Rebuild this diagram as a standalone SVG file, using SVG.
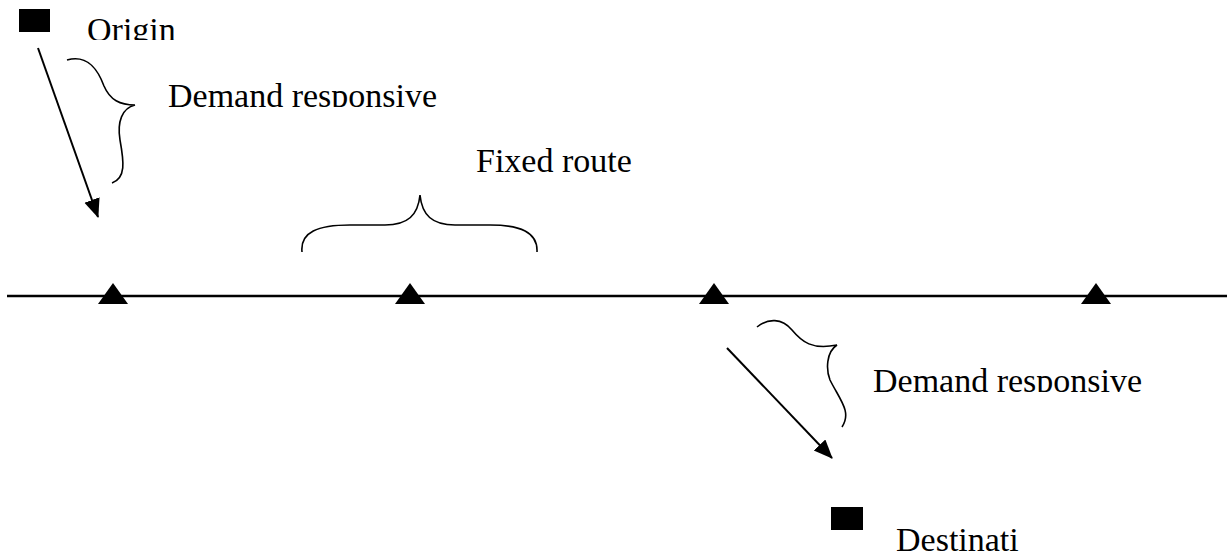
<svg xmlns="http://www.w3.org/2000/svg" width="1227" height="552" viewBox="0 0 1227 552">
  <style>
    .lbl { font-family: "Liberation Serif", "Times New Roman", serif; font-size: 34px; fill: #000; }
    .brace { fill: none; stroke: #000; stroke-width: 1.6; }
    .conn { fill: none; stroke: #000; stroke-width: 2; }
    .stop { fill: #000; }
  </style>
  <defs>
    <marker id="arrowhead" markerWidth="20" markerHeight="18" refX="18" refY="8" orient="auto" markerUnits="userSpaceOnUse" viewBox="0 0 20 18">
      <path d="M0,0 L19,8 L0,16 Z" fill="#000"/>
    </marker>
    <!-- label frames: text is cut at the bottom of each frame -->
    <clipPath id="clipOrigin"><rect x="80" y="10" width="120" height="30"/></clipPath>
    <clipPath id="clipDemand1"><rect x="160" y="75" width="300" height="32"/></clipPath>
    <clipPath id="clipFixed"><rect x="465" y="140" width="200" height="32"/></clipPath>
    <clipPath id="clipDemand2"><rect x="865" y="360" width="300" height="32"/></clipPath>
    <clipPath id="clipDest"><rect x="885" y="515" width="135" height="37"/></clipPath>
  </defs>

  <!-- route line -->
  <g id="route">
    <line x1="7" y1="296" x2="1227" y2="296" stroke="#000" stroke-width="2.6"/>
  </g>

  <!-- stops on the route -->
  <g id="stop1"><polygon class="stop" points="113,283 98,304 128,304"/></g>
  <g id="stop2"><polygon class="stop" points="410,283 395,304 425,304"/></g>
  <g id="stop3"><polygon class="stop" points="714,283 699,304 729,304"/></g>
  <g id="stop4"><polygon class="stop" points="1096,283 1081,304 1111,304"/></g>

  <!-- origin -->
  <g id="origin">
    <rect x="19" y="9" width="31" height="23" fill="#000"/>
    <text class="lbl" x="87" y="41" clip-path="url(#clipOrigin)">Origin</text>
  </g>

  <!-- destination -->
  <g id="destination">
    <rect x="831" y="507" width="32" height="23" fill="#000"/>
    <text class="lbl" x="896" y="551" clip-path="url(#clipDest)">Destinati</text>
  </g>

  <!-- demand responsive leg, origin side -->
  <g id="demand-origin">
    <path class="brace" d="M67,60 C88,54 98,70 104,86 C110,100 120,105 135,105 C122,108 117,122 120,140 C124,162 126,178 112,183"/>
    <text class="lbl" x="168" y="107" clip-path="url(#clipDemand1)">Demand responsive</text>
  </g>

  <!-- fixed route segment -->
  <g id="fixed-route">
    <path class="brace" d="M302,252 C300,232 318,225 350,225 L385,225 C408,225 418,215 420,195 C422,215 432,225 455,225 L490,225 C520,225 538,232 537,252"/>
    <text class="lbl" x="476" y="172" clip-path="url(#clipFixed)">Fixed route</text>
  </g>

  <!-- demand responsive leg, destination side -->
  <g id="demand-destination">
    <path class="brace" d="M757,327 C768,318 782,318 792,330 C802,342 812,350 837,345 C826,352 826,370 830,380 C840,400 852,412 842,427"/>
    <text class="lbl" x="873" y="392" clip-path="url(#clipDemand2)">Demand responsive</text>
  </g>

  <!-- connectors -->
  <g id="connectors">
    <line class="conn" x1="38" y1="48" x2="98" y2="217" marker-end="url(#arrowhead)"/>
    <line class="conn" x1="727" y1="348" x2="832" y2="458" marker-end="url(#arrowhead)"/>
  </g>
</svg>
